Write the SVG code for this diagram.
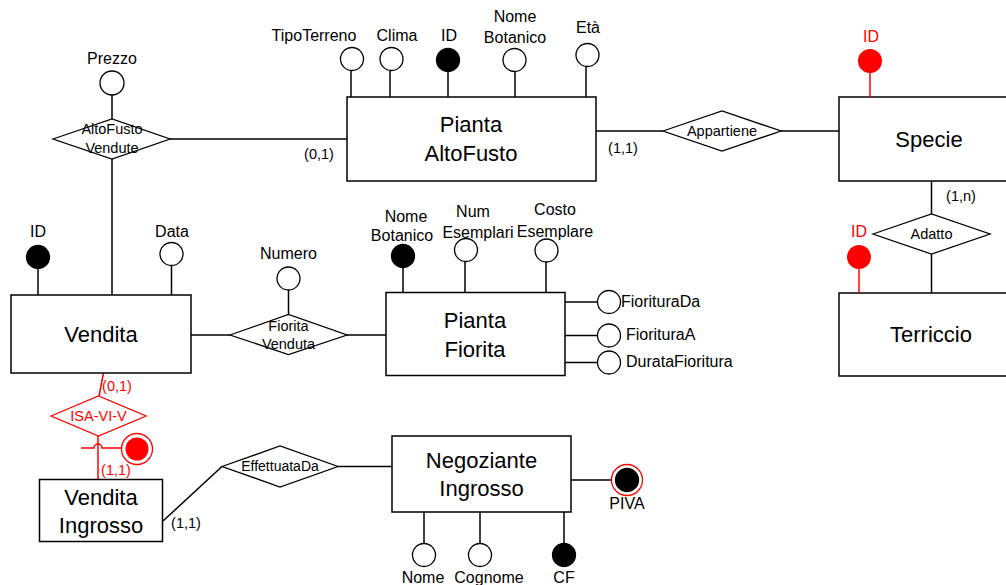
<svg xmlns="http://www.w3.org/2000/svg" width="1006" height="585" viewBox="0 0 1006 585">
<style>
text{font-family:"Liberation Sans",Arial,sans-serif;fill:#000;text-anchor:middle}
.ent{fill:#fff;stroke:#000;stroke-width:1.5}
.rel{fill:#fff;stroke:#000;stroke-width:1.3}
.ln{stroke:#000;stroke-width:1.5;fill:none}
.rln{stroke:#f00;stroke-width:1.5;fill:none}
.att{fill:#fff;stroke:#000;stroke-width:1.3}
.key{fill:#000;stroke:#000;stroke-width:1.3}
.big{font-size:22px}
.lab{font-size:16px}
.rt{font-size:14.5px}
.card{font-size:14.5px}
.red{fill:#f00}
.st{text-anchor:start}
</style>
<rect width="1006" height="585" fill="#fff"/>
<g id="connectors">
<line class="ln" x1="170" y1="139" x2="347" y2="139"/>
<line class="ln" x1="112" y1="159" x2="112" y2="295"/>
<line class="ln" x1="112" y1="95" x2="112" y2="119"/>
<line class="ln" x1="596" y1="131" x2="663" y2="131"/>
<line class="ln" x1="781" y1="131" x2="839" y2="131"/>
<line class="ln" x1="931.5" y1="181" x2="931.5" y2="214"/>
<line class="ln" x1="931.5" y1="254" x2="931.5" y2="293"/>
<line class="ln" x1="191" y1="335" x2="230" y2="335"/>
<line class="ln" x1="347" y1="335" x2="386" y2="335"/>
<line class="ln" x1="288.5" y1="290" x2="288.5" y2="314"/>
<line class="ln" x1="163" y1="521" x2="222" y2="466.5"/>
<line class="ln" x1="338" y1="466.5" x2="392" y2="466.5"/>
<path class="rln" d="M103.5 373 L99 396"/>
<path class="rln" d="M98 436 L98 479"/>
<path class="rln" d="M81 448 H94 A4 4 0 0 1 102 448 H121"/>
</g>
<g id="altofusto_vendute">
<polygon class="rel" points="53,139 112,119 170,139 112,159"/>
<text class="rt" x="112" y="134">AltoFusto</text>
<text class="rt" x="112" y="153">Vendute</text>
<text class="card" x="319" y="159">(0,1)</text>
</g>
<g id="prezzo">
<circle class="att" cx="112" cy="83" r="12"/>
<text class="lab" x="112" y="64">Prezzo</text>
</g>
<g id="pianta_altofusto">
<rect class="ent" x="347" y="97" width="249" height="84"/>
<text class="big" x="471" y="132">Pianta</text>
<text class="big" x="471" y="161">AltoFusto</text>
<line class="ln" x1="351" y1="71" x2="351" y2="97"/>
<circle class="att" cx="352" cy="59" r="11.5"/>
<text class="lab" x="314" y="41">TipoTerreno</text>
<line class="ln" x1="390" y1="71" x2="390" y2="97"/>
<circle class="att" cx="391.5" cy="59" r="11.5"/>
<text class="lab" x="397" y="41">Clima</text>
<line class="ln" x1="448" y1="72" x2="448" y2="97"/>
<circle class="key" cx="448" cy="60" r="11.5"/>
<text class="lab" x="449" y="41">ID</text>
<line class="ln" x1="515" y1="72" x2="515" y2="97"/>
<circle class="att" cx="514.5" cy="60" r="11.5"/>
<text class="lab" x="515" y="22">Nome</text>
<text class="lab" x="515" y="43">Botanico</text>
<line class="ln" x1="586" y1="67" x2="586" y2="97"/>
<circle class="att" cx="587.5" cy="55" r="11.5"/>
<text class="lab" x="588" y="33">Età</text>
<text class="card" x="623" y="153">(1,1)</text>
</g>
<g id="appartiene">
<polygon class="rel" points="663,131 722,111 781,131 722,151"/>
<text class="rt" x="722" y="136">Appartiene</text>
</g>
<g id="specie">
<rect class="ent" x="839" y="97" width="180" height="84"/>
<text class="big" x="929" y="147">Specie</text>
<line class="rln" x1="870" y1="72" x2="870" y2="97"/>
<circle cx="870" cy="61" r="12" fill="#f00"/>
<text class="lab red" x="871" y="42">ID</text>
<text class="card" x="961" y="201">(1,n)</text>
</g>
<g id="adatto">
<polygon class="rel" points="873,234 931.5,214 990,234 931.5,254"/>
<text class="rt" x="931.5" y="239">Adatto</text>
</g>
<g id="terriccio">
<rect class="ent" x="839" y="293" width="180" height="83"/>
<text class="big" x="931" y="342">Terriccio</text>
<line class="rln" x1="859" y1="268" x2="859" y2="293"/>
<circle cx="859" cy="257" r="12" fill="#f00"/>
<text class="lab red" x="859" y="237">ID</text>
</g>
<g id="vendita">
<rect class="ent" x="11" y="295" width="180" height="78"/>
<text class="big" x="101" y="342">Vendita</text>
<line class="ln" x1="38" y1="268" x2="38" y2="295"/>
<circle class="key" cx="38" cy="257" r="11.5"/>
<text class="lab" x="38" y="237">ID</text>
<line class="ln" x1="171.5" y1="266" x2="171.5" y2="295"/>
<circle class="att" cx="171.5" cy="254" r="11.5"/>
<text class="lab" x="172" y="237">Data</text>
</g>
<g id="fiorita_venduta">
<polygon class="rel" points="230,335 288.5,314.5 347,335 288.5,354.5"/>
<text class="rt" x="288.5" y="331">Fiorita</text>
<text class="rt" x="288.5" y="349">Venduta</text>
<circle class="att" cx="288.5" cy="278.5" r="11.5"/>
<text class="lab" x="288.5" y="259">Numero</text>
</g>
<g id="pianta_fiorita">
<rect class="ent" x="386" y="292.5" width="179" height="83"/>
<text class="big" x="475" y="328">Pianta</text>
<text class="big" x="475" y="357">Fiorita</text>
<line class="ln" x1="403" y1="268" x2="403" y2="292.5"/>
<circle class="key" cx="403" cy="256" r="11.5"/>
<text class="lab" x="406" y="222">Nome</text>
<text class="lab" x="402" y="241">Botanico</text>
<line class="ln" x1="465" y1="262" x2="465" y2="292.5"/>
<circle class="att" cx="466" cy="250" r="11.5"/>
<text class="lab" x="473" y="217">Num</text>
<text class="lab" x="478" y="238">Esemplari</text>
<line class="ln" x1="546" y1="262" x2="546" y2="292.5"/>
<circle class="att" cx="546.5" cy="250.5" r="11.5"/>
<text class="lab" x="555" y="215">Costo</text>
<text class="lab" x="555" y="237">Esemplare</text>
<line class="ln" x1="565" y1="302" x2="598" y2="302"/>
<circle class="att" cx="609" cy="302" r="11.5"/>
<text class="lab st" x="621" y="307">FiorituraDa</text>
<line class="ln" x1="565" y1="335.5" x2="598" y2="335.5"/>
<circle class="att" cx="609" cy="335.5" r="11.5"/>
<text class="lab st" x="626" y="340">FiorituraA</text>
<line class="ln" x1="565" y1="362.5" x2="598" y2="362.5"/>
<circle class="att" cx="609" cy="362.5" r="11.5"/>
<text class="lab st" x="626" y="367">DurataFioritura</text>
</g>
<g id="isa_vi_v">
<polygon points="51,416 98.5,396 146,416 98.5,436" fill="#fff" stroke="#f00" stroke-width="1.3"/>
<text class="rt red" x="98.5" y="421">ISA-VI-V</text>
<text class="card red" x="117" y="391">(0,1)</text>
<text class="card red" x="116" y="475">(1,1)</text>
<circle cx="137" cy="449" r="15.5" fill="#fff" stroke="#f00" stroke-width="1.3"/>
<circle cx="137" cy="449" r="11.5" fill="#f00"/>
</g>
<g id="vendita_ingrosso">
<rect class="ent" x="39.5" y="479.5" width="123" height="62"/>
<text class="big" x="101" y="505">Vendita</text>
<text class="big" x="101" y="533">Ingrosso</text>
<text class="card" x="186" y="528">(1,1)</text>
</g>
<g id="effettuata_da">
<polygon class="rel" points="222,466.5 280,446 338,466.5 280,487"/>
<text class="rt" x="280" y="471" style="font-size:14px">EffettuataDa</text>
</g>
<g id="negoziante_ingrosso">
<rect class="ent" x="392" y="436" width="179" height="76"/>
<text class="big" x="481.5" y="468">Negoziante</text>
<text class="big" x="481.5" y="496">Ingrosso</text>
<line class="ln" x1="571" y1="480" x2="611" y2="480"/>
<circle cx="627" cy="480" r="15.5" fill="#fff" stroke="#f00" stroke-width="1.3"/>
<circle class="key" cx="627" cy="480" r="11.5"/>
<text class="lab" x="627" y="509">PIVA</text>
<line class="ln" x1="424" y1="512" x2="424" y2="543"/>
<circle class="att" cx="424" cy="555" r="11.5"/>
<text class="lab" x="423" y="583">Nome</text>
<line class="ln" x1="480" y1="512" x2="480" y2="543"/>
<circle class="att" cx="480" cy="555" r="11.5"/>
<text class="lab" x="489" y="583">Cognome</text>
<line class="ln" x1="564" y1="512" x2="564" y2="543"/>
<circle class="key" cx="564" cy="555" r="11.5"/>
<text class="lab" x="564" y="583">CF</text>
</g>
</svg>
